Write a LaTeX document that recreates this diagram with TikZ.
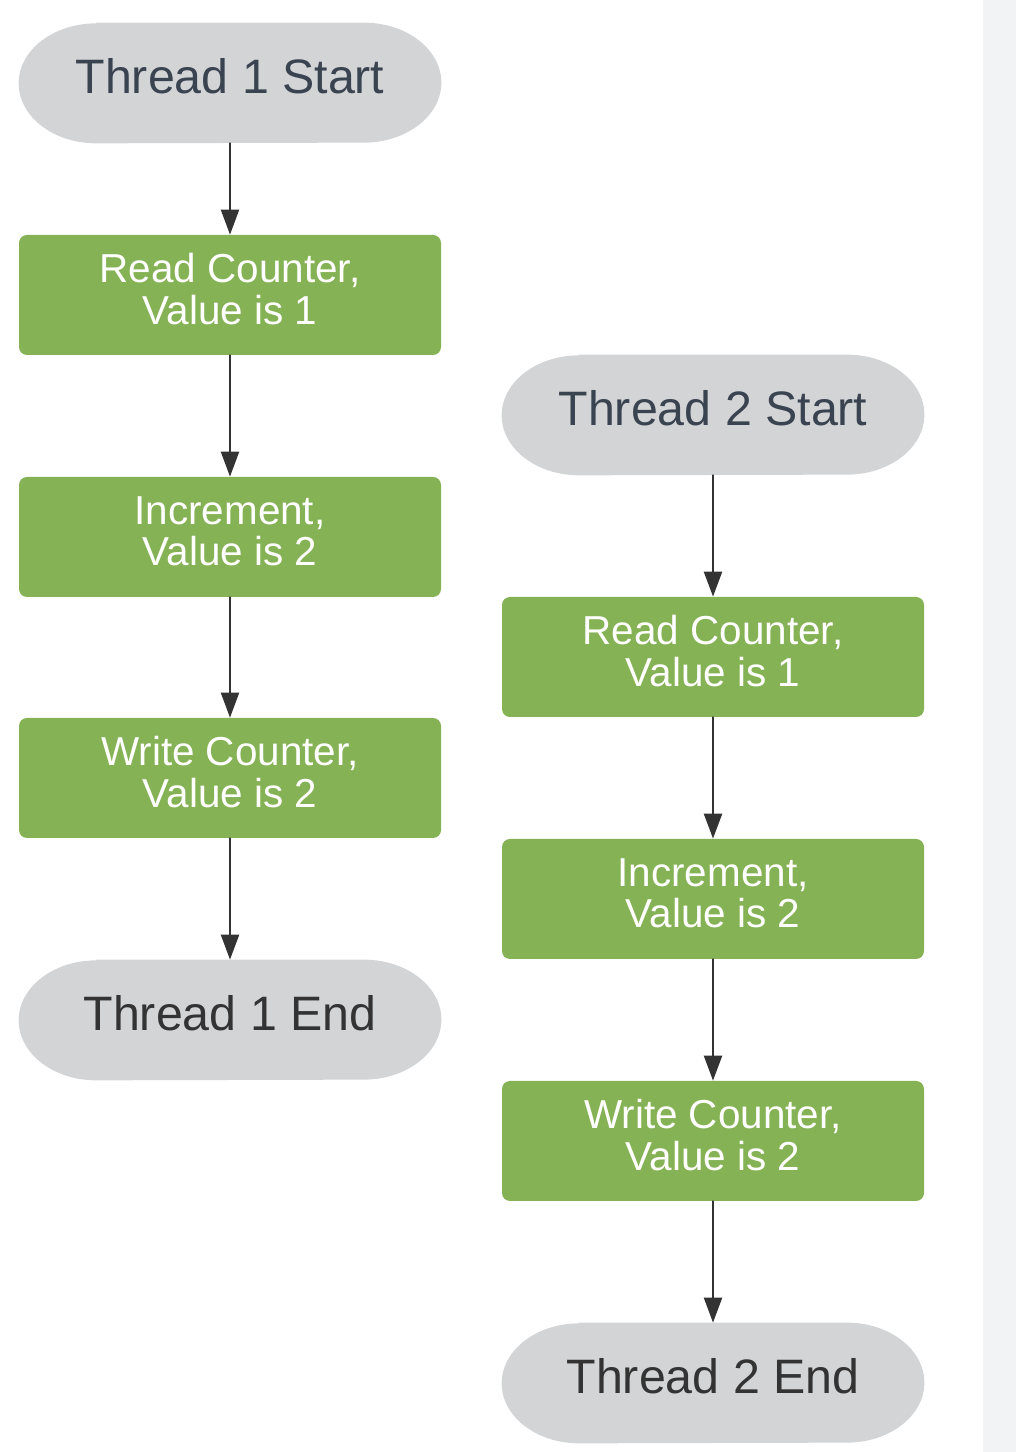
\documentclass[tikz,border=0pt]{standalone}
\usepackage{fontspec}
\setmainfont{Liberation Sans}
\usepackage{xcolor}
\usetikzlibrary{arrows.meta,backgrounds}
\definecolor{stepgreen}{HTML}{86B256}
\definecolor{termgrey}{HTML}{D3D4D6}
\definecolor{stripgrey}{HTML}{F2F3F5}
\definecolor{starttext}{HTML}{3A4350}
\definecolor{endtext}{HTML}{333333}
\definecolor{flowline}{HTML}{333333}

\begin{document}
\begin{tikzpicture}[line cap=round,line join=round,>={Triangle[length=0.5cm,width=0.36cm]},x=1.0cm,y=1.0cm,
	term/.style={rectangle,inner sep=0pt,minimum width=8.44cm,minimum height=2.4cm,text depth=8pt,font=\fontsize{27.5}{30}\selectfont},
	proc/.style={rectangle,rounded corners=0.16cm,fill=stepgreen,text=white,inner sep=0pt,minimum width=8.44cm,minimum height=2.4cm,align=center,font=\fontsize{23}{23.5}\selectfont,execute at end node={\rule[-7pt]{0pt}{7pt}}},
	flow/.style={line width=1.3pt,color=flowline}]
		\useasboundingbox (0,0) rectangle (20.32,29.04);
		\fill [stripgrey] (19.66,0) rectangle (20.32,29.04);
		% thread 1
		\node [term,text=starttext] (t1s) at (4.6,27.38) {Thread 1 Start};
		\node [proc] (r1) at (4.6,23.14) {Read Counter,\\Value is 1};
		\node [proc] (i1) at (4.6,18.3) {Increment,\\Value is 2};
		\node [proc] (w1) at (4.6,13.48) {Write Counter,\\Value is 2};
		\node [term,text=endtext] (t1e) at (4.6,8.64) {Thread 1 End};
		% thread 2
		\node [term,text=starttext] (t2s) at (14.26,20.74) {Thread 2 Start};
		\node [proc] (r2) at (14.26,15.9) {Read Counter,\\Value is 1};
		\node [proc] (i2) at (14.26,11.06) {Increment,\\Value is 2};
		\node [proc] (w2) at (14.26,6.22) {Write Counter,\\Value is 2};
		\node [term,text=endtext] (t2e) at (14.26,1.38) {Thread 2 End};
		\begin{scope}[on background layer]
			\foreach \n in {t1s,t1e,t2s,t2e}
				\fill [termgrey] ([xshift=1.55cm]\n.north west) -- ([xshift=-1.55cm]\n.north east) arc[start angle=90,end angle=-90,x radius=1.55cm,y radius=1.2cm] -- ([xshift=1.55cm]\n.south west) arc[start angle=270,end angle=90,x radius=1.55cm,y radius=1.2cm] -- cycle;
		\end{scope}
		\foreach \a/\b in {t1s/r1,r1/i1,i1/w1,w1/t1e,t2s/r2,r2/i2,i2/w2,w2/t2e}
			\draw [->,flow] (\a) -- (\b);
	\end{tikzpicture}
\end{document}
